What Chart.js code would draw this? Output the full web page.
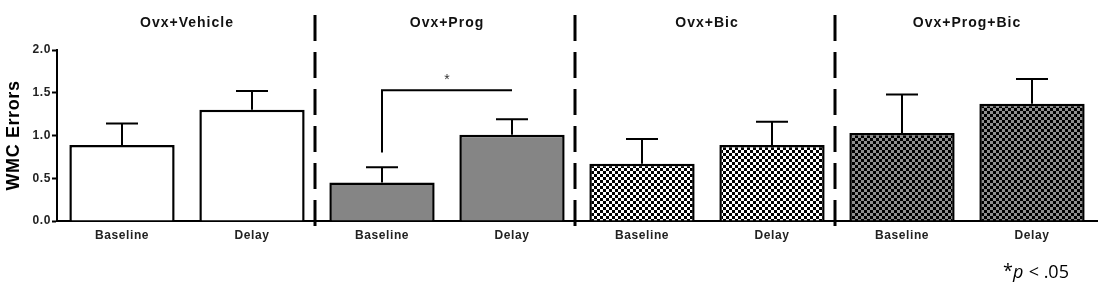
<!DOCTYPE html>
<html>
<head>
<meta charset="utf-8">
<script src="https://cdn.jsdelivr.net/npm/chart.js@4/dist/chart.umd.min.js"></script>
<style>
html,body{margin:0;padding:0;background:#fff;}
#wrap{width:1100px;height:289px;position:relative;}
</style>
</head>
<body>
<div id="wrap"><canvas id="c" width="1100" height="289"></canvas></div>
<script>
const categories = ["Baseline","Delay","Baseline","Delay","Baseline","Delay","Baseline","Delay"];
const groups = ["Ovx+Vehicle","Ovx+Prog","Ovx+Bic","Ovx+Prog+Bic"];
const means = [0.89, 1.30, 0.45, 1.01, 0.67, 0.89, 1.03, 1.37];
const sems  = [0.25, 0.22, 0.18, 0.18, 0.29, 0.27, 0.45, 0.29];
const yTicks = [0, 0.5, 1.0, 1.5, 2.0];
const fills = ["white","white","gray","gray","checkBW","checkBW","checkGB","checkGB"];
const sig = {from: 2, to: 3, top: 1.53, bottom: 0.80, label: "*"};

function checker(c1, c2, s) {
  const cv = document.createElement('canvas');
  cv.width = s * 2; cv.height = s * 2;
  const g = cv.getContext('2d');
  g.fillStyle = c1; g.fillRect(0, 0, s * 2, s * 2);
  g.fillStyle = c2; g.fillRect(0, 0, s, s); g.fillRect(s, s, s, s);
  return g.createPattern(cv, 'repeat');
}
const ctx0 = document.getElementById('c').getContext('2d');
const fillMap = {
  white: '#ffffff',
  gray: '#858585',
  checkBW: checker('#ffffff', '#000000', 3),
  checkGB: checker('#8f8f8f', '#000000', 3)
};

const spacing = {
  id: 'spacing',
  beforeDraw(chart) { chart.ctx.letterSpacing = '0.6px'; }
};

const overlay = {
  id: 'overlay',
  afterDatasetsDraw(chart) {
    const {ctx, scales: {x, y}} = chart;
    const meta = chart.getDatasetMeta(0);
    ctx.save();
    ctx.strokeStyle = '#000'; ctx.lineWidth = 2;
    meta.data.forEach((bar, i) => {
      const cx = bar.x;
      const yt = y.getPixelForValue(means[i]);
      const ye = y.getPixelForValue(means[i] + sems[i]);
      ctx.beginPath();
      ctx.moveTo(cx, yt); ctx.lineTo(cx, ye);
      ctx.moveTo(cx - 16, ye); ctx.lineTo(cx + 16, ye);
      ctx.stroke();
    });
    ctx.setLineDash([26, 11]);
    ctx.lineWidth = 3;
    for (let k = 1; k < groups.length; k++) {
      const px = (x.getPixelForValue(2 * k - 1) + x.getPixelForValue(2 * k)) / 2 - 2;
      ctx.beginPath();
      ctx.moveTo(px, 15); ctx.lineTo(px, y.bottom + 5);
      ctx.stroke();
    }
    ctx.setLineDash([]);
    ctx.fillStyle = '#111';
    ctx.font = 'bold 14px "Liberation Sans", Arial, sans-serif';
    ctx.letterSpacing = '1px';
    ctx.textAlign = 'center'; ctx.textBaseline = 'middle';
    groups.forEach((g, k) => {
      const px = (x.getPixelForValue(2 * k) + x.getPixelForValue(2 * k + 1)) / 2;
      ctx.fillText(g, px, 23);
    });
    ctx.letterSpacing = '0px';
    const x1 = x.getPixelForValue(sig.from), x2 = x.getPixelForValue(sig.to);
    const yt = y.getPixelForValue(sig.top), yb = y.getPixelForValue(sig.bottom);
    ctx.lineWidth = 2;
    ctx.beginPath();
    ctx.moveTo(x1, yb); ctx.lineTo(x1, yt); ctx.lineTo(x2, yt);
    ctx.stroke();
    ctx.font = '14px "Liberation Sans", Arial, sans-serif';
    ctx.fillStyle = '#333';
    ctx.fillText(sig.label, (x1 + x2) / 2, yt - 10);
    ctx.fillStyle = '#000';
    ctx.textAlign = 'left';
    ctx.font = '18px "Open Sans", sans-serif';
    ctx.fillText('*', 1003, 272);
    ctx.font = 'italic 18px "Open Sans", sans-serif';
    ctx.fillText('p', 1013, 273);
    ctx.font = '18px "Open Sans", sans-serif';
    ctx.fillText(' < .05', 1024, 273);
    ctx.restore();
  }
};

new Chart(ctx0, {
  type: 'bar',
  data: {
    labels: categories,
    datasets: [{
      data: means,
      backgroundColor: fills.map(f => fillMap[f]),
      borderColor: '#000',
      borderWidth: 2.5,
      borderSkipped: 'bottom',
      categoryPercentage: 0.81,
      barPercentage: 1.0
    }]
  },
  options: {
    responsive: false,
    animation: false,
    events: [],
    layout: {padding: {top: 50, right: 3, bottom: 0, left: 0}},
    plugins: {legend: {display: false}, tooltip: {enabled: false}},
    scales: {
      x: {
        grid: {display: false, drawOnChartArea: false, drawTicks: true, tickLength: 5, tickColor: '#000', tickWidth: 2},
        border: {display: true, color: '#000', width: 2},
        ticks: {color: '#222', font: {family: '"Liberation Sans", Arial, sans-serif', size: 12, weight: 'bold'}, padding: 2, maxRotation: 0},
        afterFit(s) { s.height = 68; }
      },
      y: {
        min: 0, max: 2.0,
        afterBuildTicks(s) { s.ticks = yTicks.map(v => ({value: v})); },
        grid: {display: true, drawOnChartArea: false, drawTicks: true, tickLength: 5, tickColor: '#000', tickWidth: 2},
        border: {display: true, color: '#000', width: 2},
        ticks: {color: '#222', font: {family: '"Liberation Sans", Arial, sans-serif', size: 12, weight: 'bold'}, padding: 1,
          callback: v => Number(v).toFixed(1)},
        title: {display: true, text: 'WMC Errors', color: '#000', font: {family: '"Liberation Sans", Arial, sans-serif', size: 18, weight: 'bold'}, padding: {top: 3, bottom: 0}},
        afterFit(s) { s.width = 57; }
      }
    }
  },
  plugins: [spacing, overlay]
});
</script>
</body>
</html>
